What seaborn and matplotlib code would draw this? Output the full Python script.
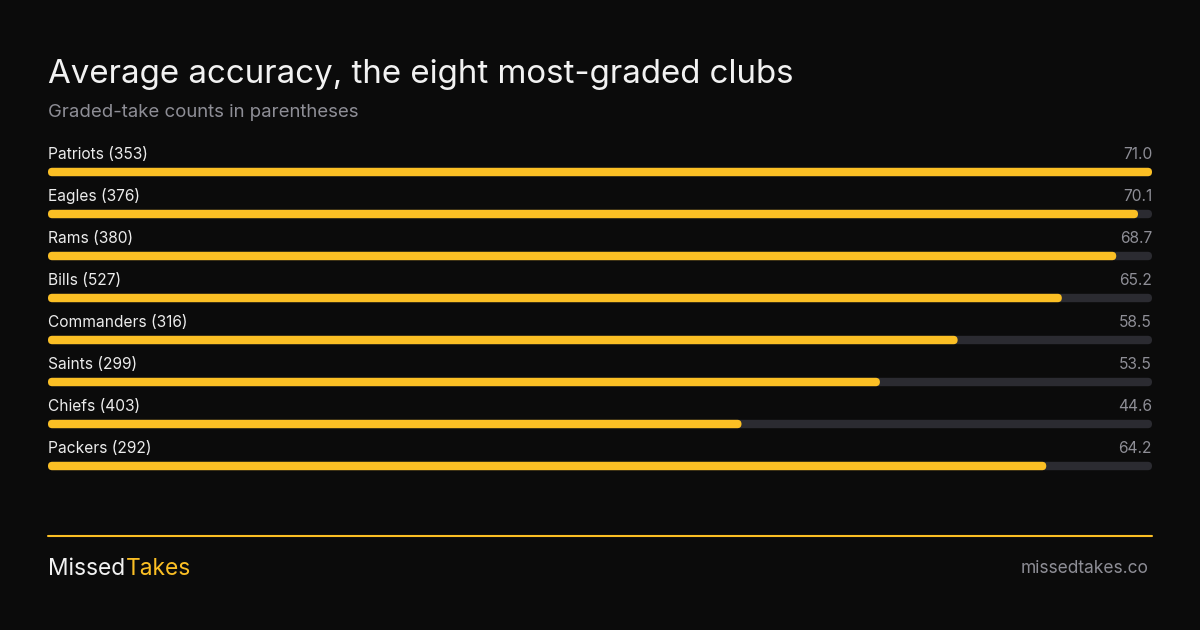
import matplotlib
matplotlib.use("Agg")
import matplotlib.pyplot as plt
from matplotlib.patches import FancyBboxPatch
from matplotlib.lines import Line2D
import pandas as pd
import seaborn as sns

# chart data
teams = ["Patriots", "Eagles", "Rams", "Bills", "Commanders", "Saints", "Chiefs", "Packers"]
counts = [353, 376, 380, 527, 316, 299, 403, 292]
accuracy = [71.0, 70.1, 68.7, 65.2, 58.5, 53.5, 44.6, 64.2]

title = "Average accuracy, the eight most-graded clubs"
subtitle = "Graded-take counts in parentheses"
brand_a, brand_b = "Missed", "Takes"
site = "missedtakes.co"

BG = "#0b0b0b"
YELLOW = "#fbbf24"
TRACK = "#2b2b31"
LABEL = "#ececec"
MUTED = "#8e8e96"

sns.set_theme(style="dark")
plt.rcParams["font.family"] = ["Inter", "DejaVu Sans"]

df = pd.DataFrame({"team": teams, "count": counts, "acc": accuracy})
scale_max = df["acc"].max()
df["track"] = scale_max

W, H = 1200, 630
fig = plt.figure(figsize=(W / 100, H / 100), dpi=100, facecolor=BG)

# axes: left 48px, right 1152px, rows 42px apart starting at 172px
ax_left, ax_right, ax_top, ax_bot = 48, 1152, 151, 487
ax = fig.add_axes([ax_left / W, 1 - ax_bot / H, (ax_right - ax_left) / W, (ax_bot - ax_top) / H])
ax.set_facecolor(BG)

bar_w = 0.2
sns.barplot(data=df, x="track", y="team", orient="h", color=TRACK, width=bar_w, ax=ax, saturation=1)
sns.barplot(data=df, x="acc", y="team", orient="h", color=YELLOW, width=bar_w, ax=ax, saturation=1)
ax.set_xlim(0, scale_max)
ax.set_ylim(len(teams) - 0.5, -0.5)

# round the bar ends
px_x = (ax_right - ax_left) / scale_max
px_y = (ax_bot - ax_top) / len(teams)
aspect = px_x / px_y
for p in list(ax.patches):
    x, y, w, h = p.get_x(), p.get_y(), p.get_width(), p.get_height()
    r = (h / aspect) / 2
    fb = FancyBboxPatch((x, y), w, h, boxstyle=f"round,pad=0,rounding_size={r}",
                        mutation_aspect=aspect, facecolor=p.get_facecolor(),
                        edgecolor="none", linewidth=0, zorder=p.get_zorder())
    p.remove()
    ax.add_patch(fb)

for i, row in df.iterrows():
    ax.text(0, i - 0.31, f"{row['team']} ({row['count']})", color=LABEL,
            fontsize=11.2, va="baseline", ha="left")
    ax.text(scale_max, i - 0.31, f"{row['acc']:.1f}", color=MUTED,
            fontsize=11.2, va="baseline", ha="right")

ax.set_xlabel("")
ax.set_ylabel("")
ax.set_xticks([])
ax.set_yticks([])
for s in ax.spines.values():
    s.set_visible(False)

fig.text(48 / W, 1 - 82.5 / H, title, color="#f2f2f2", fontsize=23.8, va="baseline", ha="left")
fig.text(48 / W, 1 - 117 / H, subtitle, color=MUTED, fontsize=13.4, va="baseline", ha="left")

fig.add_artist(Line2D([48 / W, 1152 / W], [1 - 535.5 / H] * 2, color=YELLOW, lw=1.5))

t1 = fig.text(48 / W, 1 - 575 / H, brand_a, color="#f2f2f2", fontsize=16.4, va="baseline", ha="left")
ax.annotate(brand_b, xy=(1, 0), xycoords=t1, xytext=(0.5, 0), textcoords="offset points",
            color=YELLOW, fontsize=16.4, va="bottom", ha="left", annotation_clip=False)
fig.text(1148 / W, 1 - 573 / H, site, color=MUTED, fontsize=12.5, va="baseline", ha="right")

fig.savefig("out.png", dpi=100, facecolor=BG)
